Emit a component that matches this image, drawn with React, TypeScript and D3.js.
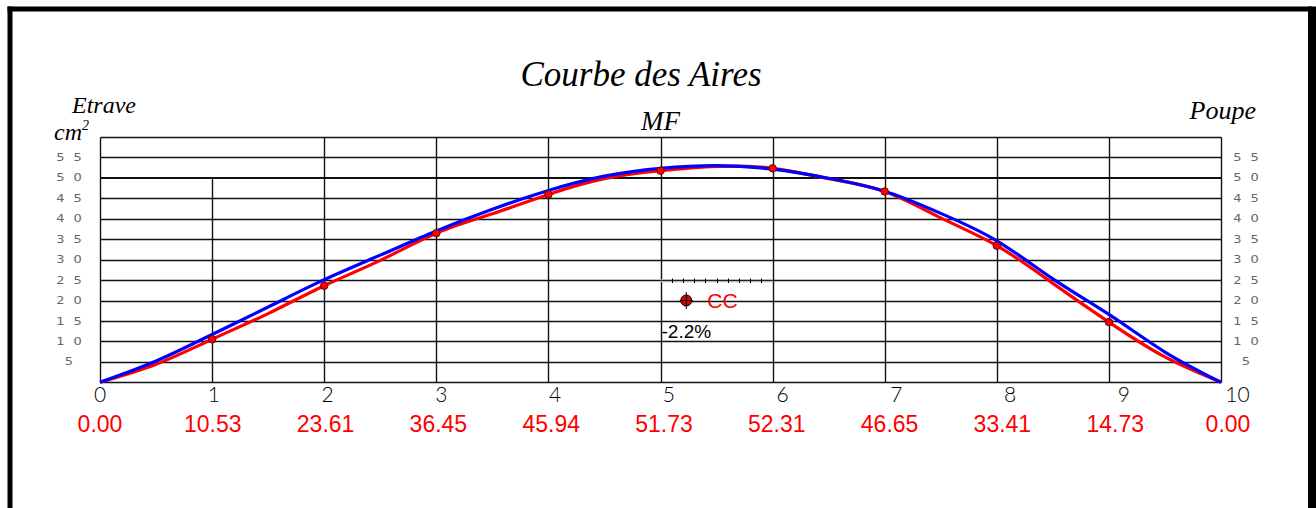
import React from "react";
import * as d3 from "d3";

// ---- data ----
const stations = [0, 1, 2, 3, 4, 5, 6, 7, 8, 9, 10];
const stationAreas = [0.0, 10.53, 23.61, 36.45, 45.94, 51.73, 52.31, 46.65, 33.41, 14.73, 0.0];
const halfStations = [0.5, 1.5, 2.5, 3.5, 4.5, 5.5, 6.5, 7.5, 8.5, 9.5];
const redHalfValues = [4.4, 16.8, 29.8, 41.2, 49.8, 52.8, 49.8, 40.2, 24.2, 6.2];
const blueStations = [0, 0.5, 1, 1.5, 2, 2.5, 3, 3.5, 4, 4.5, 5, 5.5, 6, 6.5, 7, 7.5, 8, 8.5, 9, 9.5, 10];
const blueValues = [0, 5.2, 11.7, 18.4, 25.1, 31.1, 37.0, 42.3, 46.9, 50.4, 52.3, 53.0, 52.1, 49.9, 46.7, 41.3, 34.6, 25.3, 16.6, 7.4, 0];
const yTicks = [5, 10, 15, 20, 25, 30, 35, 40, 45, 50, 55];
const gridLevels = [0, 5, 10, 15, 20, 25, 30, 35, 40, 45, 50, 55, 60];
const dotStations = [1, 2, 3, 4, 5, 6, 7, 8, 9];
const ccStation = 5.23;
const ccValue = 20;
const ccLabel = "CC";
const ccPercent = "-2.2%";
const ruleLevel = 25;
const ruleTicks = [5.1, 5.2, 5.3, 5.4, 5.5, 5.6, 5.7, 5.8, 5.9];

const W = 1316;
const H = 508;

export default function App() {
  const x = d3.scaleLinear().domain([0, 10]).range([100, 1221]);
  const y = d3.scaleLinear().domain([0, 60]).range([382.3, 136.9]);
  const xLab = d3.scaleLinear().domain([0, 10]).range([100, 1237.5]);
  const xVal = d3.scaleLinear().domain([0, 10]).range([100, 1228]);
  const cx = (s: number) => Math.round(x(s)) + 0.5;
  const cy = (v: number) => Math.round(y(v)) + 0.5;

  const redPts: [number, number][] = stations
    .map((s, i) => [s, stationAreas[i]] as [number, number])
    .concat(halfStations.map((s, i) => [s, redHalfValues[i]] as [number, number]))
    .sort((a, b) => a[0] - b[0]);
  const bluePts: [number, number][] = blueStations.map((s, i) => [s, blueValues[i]]);

  const line = d3
    .line<[number, number]>()
    .x((d) => x(d[0]))
    .y((d) => y(d[1]))
    .curve(d3.curveNatural);

  const serif = "'Liberation Serif', 'Times New Roman', serif";
  const sans = "'Liberation Sans', Arial, sans-serif";
  const thin = "Lato, 'DejaVu Sans', sans-serif";

  const topOf = (s: number) => (s === 1 ? 50 : 60);

  const yLabel = (v: number, centerX: number) => (
    <text
      key={"yt" + v + "_" + centerX}
      transform={`translate(${centerX + 4.5},${y(v) + 3.6}) scale(1.3,1)`}
      textAnchor="middle"
      fontFamily="'DejaVu Sans', sans-serif"
      fontSize={10}
      letterSpacing={7}
      fill="#666"
    >
      {String(v)}
    </text>
  );

  return (
    <svg
      width={W}
      height={H}
      style={{ position: "absolute", left: 0, top: 0, background: "#fff" }}
    >
      {/* frame */}
      <line x1={10} y1={6.5} x2={10} y2={H} stroke="#000" strokeWidth={5} />
      <line x1={7.5} y1={9} x2={1312} y2={9} stroke="#000" strokeWidth={5} />
      <rect x={1308} y={6.5} width={10} height={H} fill="#000" />

      {/* titles */}
      <text x={641} y={86} textAnchor="middle" fontFamily={serif} fontStyle="italic" fontSize={35}>
        Courbe des Aires
      </text>
      <text x={72} y={113} fontFamily={serif} fontStyle="italic" fontSize={24}>
        Etrave
      </text>
      <text x={54} y={140} fontFamily={serif} fontStyle="italic" fontSize={24}>
        cm
        <tspan fontSize={14} dy={-10}>2</tspan>
      </text>
      <text x={1256} y={119} textAnchor="end" fontFamily={serif} fontStyle="italic" fontSize={26}>
        Poupe
      </text>
      <text x={641} y={130} fontFamily={serif} fontStyle="italic" fontSize={27}>
        MF
      </text>

      {/* grid */}
      <g>
        {gridLevels.map((v) => (
          <line
            key={"h" + v}
            x1={cx(0)}
            x2={cx(10)}
            y1={v === 50 ? Math.round(y(v)) : cy(v)}
            y2={v === 50 ? Math.round(y(v)) : cy(v)}
            stroke="#111"
            strokeWidth={v === 50 ? 2.2 : 1.4}
          />
        ))}
        {stations.map((s) => (
          <line
            key={"v" + s}
            x1={cx(s)}
            x2={cx(s)}
            y1={cy(0)}
            y2={cy(topOf(s))}
            stroke="#111"
            strokeWidth={1.4}
          />
        ))}
      </g>

      {/* y tick labels */}
      {yTicks.map((v) => yLabel(v, 69))}
      {yTicks.map((v) => yLabel(v, 1246))}

      {/* CC rule */}
      <line x1={x(5)} x2={x(6)} y1={y(ruleLevel) + 0.8} y2={y(ruleLevel) + 0.8} stroke="#bbb" strokeWidth={3} />
      <line x1={x(5)} x2={x(6)} y1={cy(ruleLevel)} y2={cy(ruleLevel)} stroke="#222" strokeWidth={1} />
      {ruleTicks.map((t) => (
        <line key={"rt" + t} x1={cx(t)} x2={cx(t)} y1={y(ruleLevel) - 1.5} y2={y(ruleLevel) + 3} stroke="#000" strokeWidth={1} />
      ))}

      {/* curves */}
      <path d={line(redPts) || ""} fill="none" stroke="#ff0000" strokeWidth={3.2} />
      <path d={line(bluePts) || ""} fill="none" stroke="#0000ff" strokeWidth={3.2} />

      {/* station points */}
      {dotStations.map((s) => (
        <circle key={"p" + s} cx={x(s)} cy={y(stationAreas[s])} r={3.8} fill="#ff0000" stroke="#400" strokeWidth={0.8} />
      ))}

      {/* CC marker */}
      <circle cx={x(ccStation)} cy={y(ccValue)} r={5.5} fill="#e00000" stroke="#000" strokeWidth={1} />
      <line x1={x(ccStation)} x2={x(ccStation)} y1={y(ccValue) - 8.5} y2={y(ccValue) + 8.5} stroke="#000" strokeWidth={1} />
      <line x1={x(ccStation) - 6.5} x2={x(ccStation) + 6.5} y1={y(ccValue)} y2={y(ccValue)} stroke="#000" strokeWidth={1} />
      <text x={x(ccStation) + 21} y={y(ccValue) + 7.5} fontFamily={sans} fontSize={21} fill="#ff0000">
        {ccLabel}
      </text>
      <text x={x(5) + 1} y={338} fontFamily={sans} fontSize={19} fill="#000">
        {ccPercent}
      </text>

      {/* station labels */}
      {stations.map((s) => (
        <text key={"sl" + s} x={xLab(s)} y={402} textAnchor="middle" fontFamily={thin} fontWeight={300} fontSize={21} fill="#000">
          {String(s)}
        </text>
      ))}
      {stations.map((s, i) => (
        <text key={"vl" + s} x={xVal(s)} y={432} textAnchor="middle" fontFamily={sans} fontSize={23} fill="#ff0000">
          {stationAreas[i].toFixed(2)}
        </text>
      ))}
    </svg>
  );
}
